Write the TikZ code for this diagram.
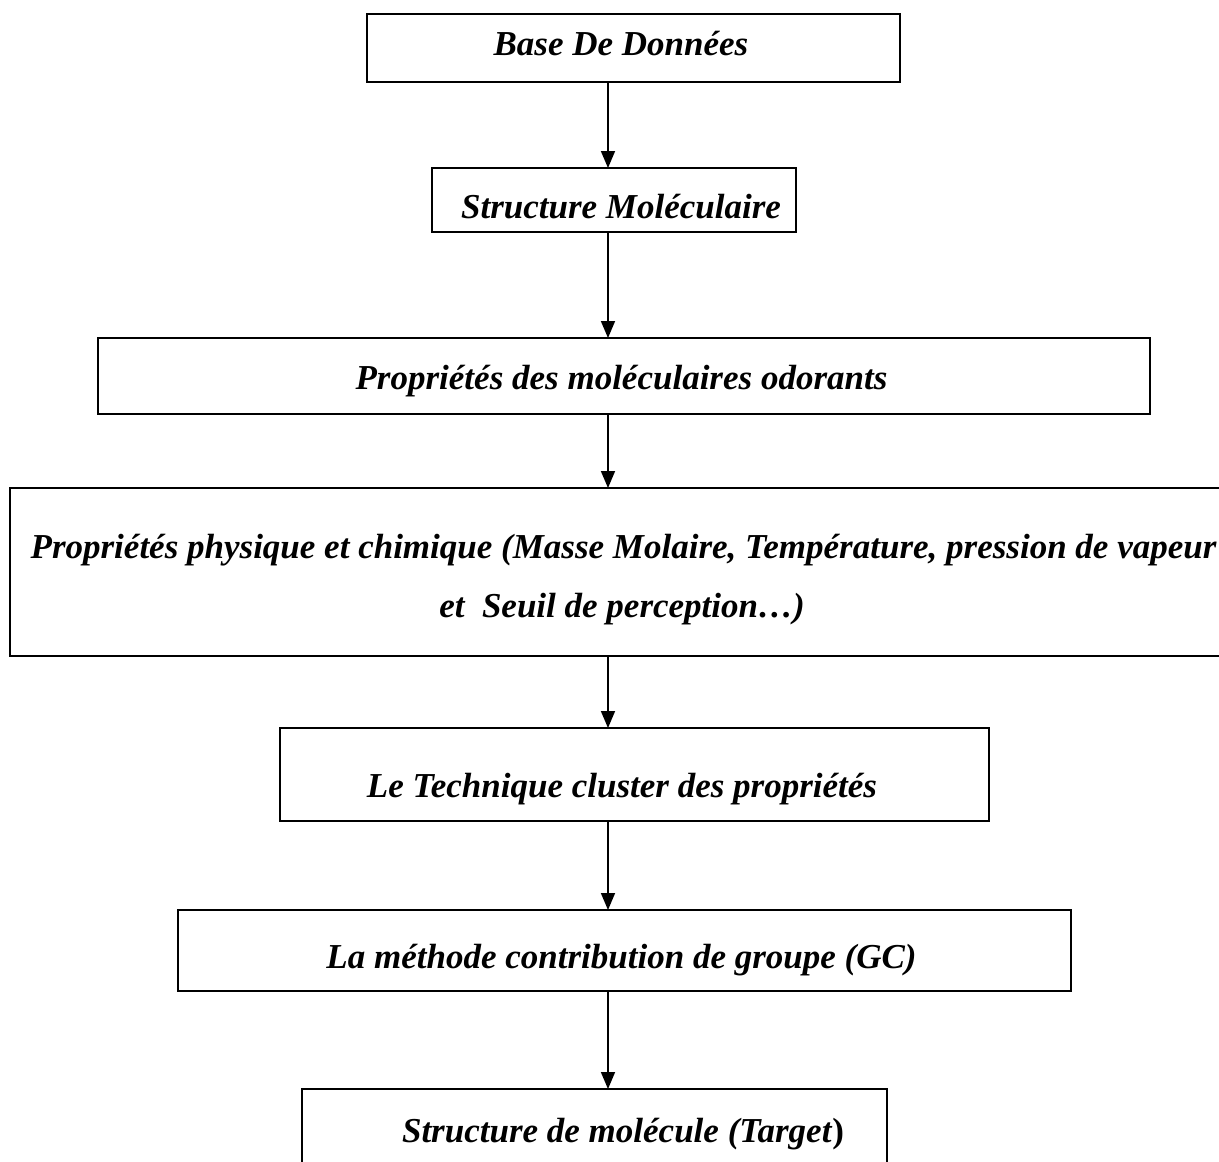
\documentclass[tikz,border=0pt]{standalone}
\usepackage{fontspec}
\setmainfont{Liberation Serif}
\usetikzlibrary{arrows.meta}
\tikzset{
  box/.style={draw, line width=1.6pt, inner sep=0pt, outer sep=0pt},
  lbl/.style={anchor=base, inner sep=0pt, font=\fontsize{35}{42}\selectfont\bfseries\itshape},
  arr/.style={line width=1.6pt, -{Triangle[length=17pt, width=14pt]}}
}
\begin{document}
\begin{tikzpicture}[x=1pt, y=-1pt]
\clip (0,0) rectangle (1219,1162);
\fill[white] (0,0) rectangle (1219,1162);
\coordinate (ax) at (608,0);
% boxes
\node[box, minimum width=533pt, minimum height=68pt] (b1) at (633.5,48) {};
\node[box, minimum width=364pt, minimum height=64pt] (b2) at (614,200) {};
\node[box, minimum width=1052pt, minimum height=76pt] (b3) at (624,376) {};
\node[box, minimum width=1220pt, minimum height=168pt] (b4) at (620,572) {};
\node[box, minimum width=709pt, minimum height=93pt] (b5) at (634.5,774.5) {};
\node[box, minimum width=893pt, minimum height=81pt] (b6) at (624.5,950.5) {};
\node[box, minimum width=585pt, minimum height=86pt] (b7) at (594.5,1132) {};
% texts
\node[lbl] (t1) at (621,55) {Base De Données};
\node[lbl] (t2) at (621,218) {Structure Moléculaire};
\node[lbl] (t3) at (621.5,389) {Propriétés des moléculaires odorants};
\node[lbl] (t4a) at (623.5,558) {Propriétés physique et chimique (Masse Molaire, Température, pression de vapeur};
\node[lbl] (t4b) at (622,617) {et\ \ Seuil de perception…)};
\node[lbl] (t5) at (622,797) {Le Technique cluster des propriétés};
\node[lbl] (t6) at (621.5,968) {La méthode contribution de groupe (GC)};
\node[lbl] (t7) at (623,1142) {Structure de molécule (Target\textup{)}};
% connectors
\draw[arr] (b1.south -| ax) -- (b2.north -| ax);
\draw[arr] (b2.south -| ax) -- (b3.north -| ax);
\draw[arr] (b3.south -| ax) -- (b4.north -| ax);
\draw[arr] (b4.south -| ax) -- (b5.north -| ax);
\draw[arr] (b5.south -| ax) -- (b6.north -| ax);
\draw[arr] (b6.south -| ax) -- (b7.north -| ax);
\end{tikzpicture}
\end{document}
